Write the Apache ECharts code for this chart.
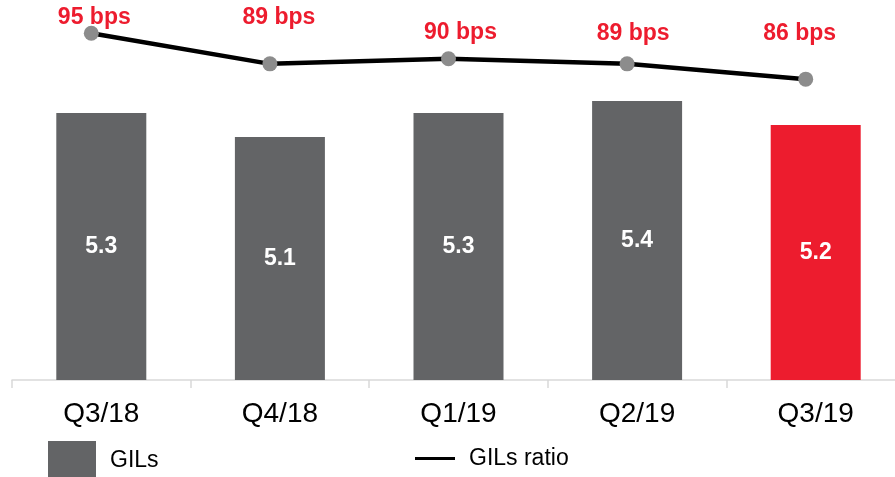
<!DOCTYPE html>
<html>
<head>
<meta charset="utf-8">
<script src="https://cdn.jsdelivr.net/npm/echarts@6/dist/echarts.min.js"></script>
<style>html,body{margin:0;padding:0;background:#fff}#c{width:895px;height:477px}</style>
</head>
<body>
<div id="c"></div>
<script>
const categories = ['Q3/18', 'Q4/18', 'Q1/19', 'Q2/19', 'Q3/19'];
const gilsValues = [5.3, 5.1, 5.3, 5.4, 5.2];
const ratioBps = [95, 89, 90, 89, 86];
const ratioLabelOffsets = [[3, -16], [9, -46], [12, -26], [6, -30], [-6, -45]];

const FONT = '"Liberation Sans", Arial, sans-serif';
const GREY = '#636466';
const RED = '#ED1C2E';

const chart = echarts.init(document.getElementById('c'));
chart.setOption({
  animation: false,
  textStyle: { fontFamily: FONT },
  grid: [
    { left: 12, width: 893, top: 20, height: 360, containLabel: false, outerBoundsMode: 'none' },
    { left: 2, width: 893, top: 20, height: 360, containLabel: false, outerBoundsMode: 'none' }
  ],
  legend: [
    {
      data: ['GILs'], left: 48, top: 441, padding: 0, itemWidth: 48, itemHeight: 40,
      icon: 'rect', itemStyle: { color: GREY },
      textStyle: { fontSize: 23, color: '#000', fontFamily: FONT, padding: [0, 0, 0, 9] }
    },
    {
      data: ['GILs ratio'], left: 415, top: 447, padding: 0, itemWidth: 40, itemHeight: 3,
      icon: 'rect', itemStyle: { color: '#000' },
      textStyle: { fontSize: 23, color: '#000', fontFamily: FONT, padding: [0, 0, 0, 9] }
    }
  ],
  xAxis: [
    {
      type: 'category', gridIndex: 0, data: categories,
      axisLine: { lineStyle: { color: '#d9d9d9', width: 1.5 } },
      axisTick: { show: true, length: 8, lineStyle: { color: '#d9d9d9', width: 1.5 } },
      axisLabel: { fontSize: 28, color: '#000', margin: 20, fontFamily: FONT }
    },
    {
      type: 'category', gridIndex: 1, data: categories, show: false
    }
  ],
  yAxis: [
    { type: 'value', gridIndex: 0, min: 3.075, max: 6.075, show: false, splitLine: { show: false } },
    { type: 'value', gridIndex: 1, min: 27, max: 97.6, show: false, splitLine: { show: false } }
  ],
  series: [
    {
      name: 'GILs', type: 'bar', xAxisIndex: 0, yAxisIndex: 0, barWidth: 90,
      itemStyle: { color: GREY },
      data: gilsValues.map((v, i) => ({
        value: v,
        itemStyle: { color: i === gilsValues.length - 1 ? RED : GREY }
      })),
      label: {
        show: true, position: 'inside', color: '#fff', fontWeight: 'bold',
        fontSize: 23, fontFamily: FONT, formatter: p => p.value.toFixed(1)
      }
    },
    {
      name: 'GILs ratio', type: 'line', xAxisIndex: 1, yAxisIndex: 1,
      symbol: 'circle', symbolSize: 15,
      lineStyle: { color: '#000', width: 4.5 },
      itemStyle: { color: '#8c8c8c' },
      data: ratioBps.map((v, i) => ({
        value: v,
        label: { offset: ratioLabelOffsets[i] }
      })),
      label: {
        show: true, position: 'inside', color: RED, fontWeight: 'bold',
        fontSize: 23, fontFamily: FONT, formatter: p => p.value + ' bps'
      },
      z: 5
    }
  ]
});
</script>
</body>
</html>
